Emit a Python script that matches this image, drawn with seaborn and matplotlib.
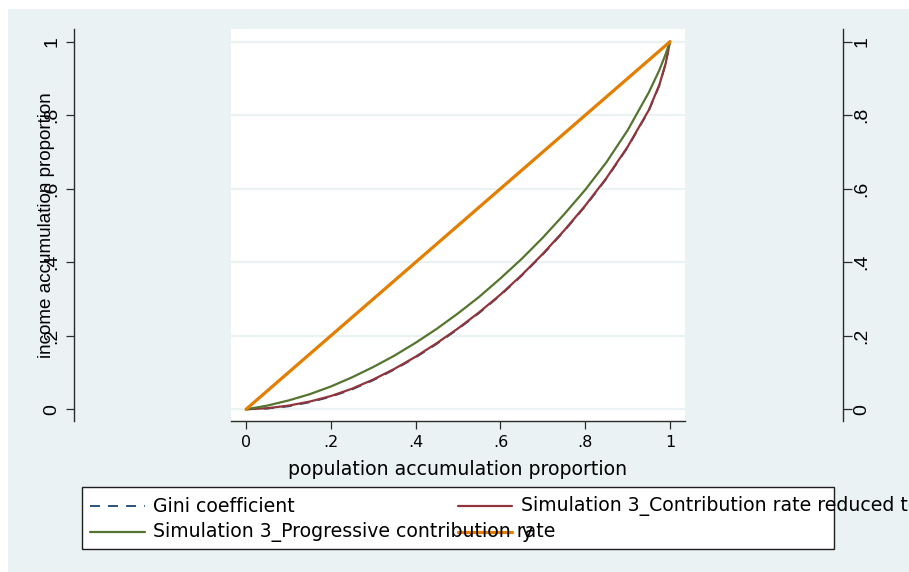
import matplotlib
matplotlib.use("Agg")
import matplotlib.pyplot as plt
from matplotlib.patches import Rectangle
from matplotlib.lines import Line2D
import pandas as pd
import seaborn as sns

# Cumulative population share (x) and cumulative income share (y) for each Lorenz curve
pop_share = [0, .05, .1, .15, .2, .25, .3, .35, .4, .45, .5, .55, .6,
             .65, .7, .75, .8, .85, .9, .95, .975, .99, 1]
gini_income = [0, .002, .008, .019, .034, .054, .079, .108, .141, .178, .218, .262, .310,
               .363, .421, .484, .552, .627, .712, .812, .881, .941, 1]
reduced_rate_income = [0, .003, .010, .021, .036, .056, .081, .110, .143, .180, .220, .264, .312,
                       .365, .423, .486, .554, .629, .714, .814, .883, .942, 1]
progressive_income = [0, .010, .024, .041, .062, .087, .115, .146, .181, .219, .261, .306, .356,
                      .409, .467, .530, .597, .672, .759, .862, .923, .967, 1]
equality_x = [0, 1]
equality_y = [0, 1]

tick_values = [0, .2, .4, .6, .8, 1]
tick_labels = ["0", ".2", ".4", ".6", ".8", "1"]
series_labels = ["Gini coefficient",
                 "Simulation 3_Contribution rate reduced to",
                 "Simulation 3_Progressive contribution rate",
                 "y"]
x_title = "population accumulation proportion"
y_title = "income accumulation proportion"

# Stata s2color palette
NAVY = "#1A476F"
MAROON = "#90353B"
FOREST = "#55752F"
DKORANGE = "#E37E00"
REGION = "#EAF2F3"
AXIS = "#2B2B2B"

sns.set_theme(style="white")
plt.rcParams["font.family"] = ["DejaVu Sans"]
plt.rcParams["text.color"] = "black"
plt.rcParams["axes.labelcolor"] = "black"
plt.rcParams["xtick.color"] = "black"
plt.rcParams["ytick.color"] = "black"

W, H = 909, 572
fig = plt.figure(figsize=(W / 100, H / 100), dpi=100, facecolor="white")


def fx(px):
    return px / W


def fy(py):
    return 1 - py / H


# Graph region
fig.add_artist(Rectangle((fx(8), 0), 1 - fx(8), fy(9), transform=fig.transFigure,
                         facecolor=REGION, edgecolor="none", zorder=-10))

ax = fig.add_axes([fx(231), fy(421), (685 - 231) / W, (421 - 29) / H])
ax.set_facecolor("white")

lorenz = pd.DataFrame({"pop": pop_share, "gini": gini_income,
                       "reduced": reduced_rate_income, "progressive": progressive_income})
equal = pd.DataFrame({"pop": equality_x, "inc": equality_y})

GINI_DASH = (5.5, 4.5)
sns.lineplot(data=lorenz, x="pop", y="gini", ax=ax, color=NAVY, linewidth=1.3,
             sort=False, estimator=None, legend=False)
ax.lines[-1].set_dashes(GINI_DASH)
sns.lineplot(data=lorenz, x="pop", y="reduced", ax=ax, color=MAROON, linewidth=1.6,
             sort=False, estimator=None, legend=False)
sns.lineplot(data=lorenz, x="pop", y="progressive", ax=ax, color=FOREST, linewidth=1.6,
             sort=False, estimator=None, legend=False)
sns.lineplot(data=equal, x="pop", y="inc", ax=ax, color=DKORANGE, linewidth=2.3,
             sort=False, estimator=None, legend=False)

xlim = (-0.0354, 1.0354)
ylim = (-0.0318, 1.0346)
ax.set_xlim(*xlim)
ax.set_ylim(*ylim)

ax.yaxis.grid(True, color=REGION, linewidth=1.6)
ax.xaxis.grid(False)
ax.set_axisbelow(True)

for side in ("top", "right"):
    ax.spines[side].set_visible(False)
for side in ("left", "bottom"):
    ax.spines[side].set_color(AXIS)
    ax.spines[side].set_linewidth(1.0)
ax.spines["left"].set_position(("axes", (74 - 231) / 454))

ax.set_xticks(tick_values, tick_labels, fontsize=11.5, color="black")
ax.tick_params(axis="x", bottom=True, direction="out", length=5.6, width=0.9,
               color=AXIS, pad=4.5)
ax.set_yticks(tick_values, tick_labels, fontsize=14, rotation=90, va="center",
              ha="right", color="black", family=["Liberation Sans", "DejaVu Sans"])
ax.tick_params(axis="y", left=True, direction="out", length=5.8, width=0.9,
               color=AXIS, pad=4.0)

ax.set_xlabel(x_title, fontsize=13.6, color="black")
ax.xaxis.set_label_coords(0.5, (421 - 475) / 392)
ax.xaxis.label.set_va("baseline")

ax.set_ylabel(y_title, fontsize=13.6, color="black", family=["Liberation Sans", "DejaVu Sans"])
ax.yaxis.set_label_coords((46.5 - 231) / 454, 0.5)
ax.yaxis.label.set_va("center")
ax.yaxis.label.set_ha("center")

# Mirrored axis on the right
ax_r = ax.twinx()
ax_r.set_ylim(*ylim)
ax_r.grid(False)
for side in ("top", "left", "bottom"):
    ax_r.spines[side].set_visible(False)
ax_r.spines["right"].set_color(AXIS)
ax_r.spines["right"].set_linewidth(1.0)
ax_r.spines["right"].set_position(("axes", (843 - 231) / 454))
ax_r.set_yticks(tick_values, tick_labels, fontsize=14, rotation=90, va="center",
                ha="left", color="black", family=["Liberation Sans", "DejaVu Sans"])
ax_r.tick_params(axis="y", right=True, direction="out", length=6.2, width=0.9,
                 color=AXIS, pad=1.5)

# Legend box with two columns; long labels run past the frame
fig.add_artist(Rectangle((fx(82), fy(549)), (834 - 82) / W, (549 - 487) / H,
                         transform=fig.transFigure, facecolor="white",
                         edgecolor="#1E1E1E", linewidth=1.0, zorder=5))
rows = [506, 532]
cols = [(90, 145, 153), (458, 512, 521)]
entries = [
    (0, 0, NAVY, 1.3, GINI_DASH),
    (0, 1, MAROON, 1.6, None),
    (1, 0, FOREST, 1.6, None),
    (1, 1, DKORANGE, 2.3, None),
]
for (r, c, color, lw, dashes), label in zip(entries, series_labels):
    x0, x1, tx = cols[c]
    line = Line2D([fx(x0), fx(x1)], [fy(rows[r])] * 2, transform=fig.transFigure,
                  color=color, linewidth=lw, zorder=6)
    if dashes:
        line.set_dashes(dashes)
    fig.add_artist(line)
    fig.text(fx(tx), fy(rows[r]), label, fontsize=13.6, va="center", ha="left",
             color="black", zorder=7)

fig.savefig("out.png", dpi=100, facecolor="white")
